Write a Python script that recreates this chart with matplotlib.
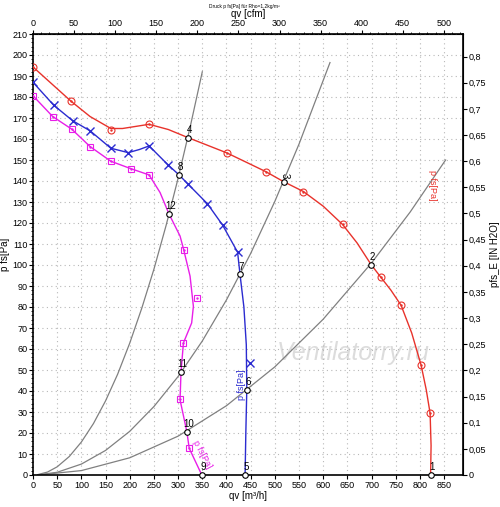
import numpy as np
import matplotlib
matplotlib.use('Agg')
import matplotlib.pyplot as plt
from matplotlib.ticker import MultipleLocator, FuncFormatter

plt.rcParams['font.family'] = ['Liberation Sans', 'DejaVu Sans']

# red curve (full speed)
red_q = [0, 78.6, 118, 161, 185, 240, 280, 320, 400.6, 481, 518, 559, 600, 640, 670, 699, 719, 740, 761, 783, 802.5, 813, 821, 823, 822]
red_p = [194.3, 178, 170.7, 165, 165, 167, 164.5, 160.7, 153.4, 144.5, 139.7, 135, 128, 119.3, 110.5, 100.2, 94.2, 88, 80.8, 67.6, 52.2, 40.6, 29.4, 14, 0]
red_mk_q = [0, 78.6, 161, 240, 400.6, 481, 559, 640, 719, 761, 802.5, 821]
red_mk_p = [194.3, 178, 164.2, 167, 153.4, 144.5, 135, 119.3, 94.2, 80.8, 52.2, 29.4]

# blue curve
blue_q = [0, 42.8, 82, 118, 161, 197, 220, 240, 280, 302, 321, 360.5, 392, 423, 428, 436, 441, 442, 440, 438.5]
blue_p = [187, 176.1, 168.7, 163.9, 155.6, 153.5, 155, 156.7, 147.5, 142.9, 138.4, 129.2, 119, 106.1, 95.5, 80, 62, 40.6, 20, 0]
blue_mk_q = [0, 42.8, 82, 118, 161, 197, 240, 280, 321, 360.5, 392, 423, 449]
blue_mk_p = [187, 176.1, 168.7, 163.9, 155.6, 153.5, 156.7, 147.5, 138.4, 129.2, 119, 106.1, 53.3]

# magenta curve
mag_q = [0, 40.7, 80, 118, 161, 202, 240, 262.7, 281, 304, 311, 324.7, 331.6, 328, 311, 306, 304, 318, 323, 349]
mag_p = [180.6, 170.7, 164.7, 156.4, 149.4, 145.9, 142.9, 134.5, 124.4, 113.8, 107.8, 94.7, 80.3, 72.4, 62.9, 49, 35.8, 20.7, 12.7, 0]
mag_mk_q = [0, 40.7, 80, 118, 161, 202, 240, 312, 338.5, 311, 304, 323]
mag_mk_p = [180.6, 170.7, 164.7, 156.4, 149.4, 145.9, 142.9, 107, 84.3, 63, 36.1, 12.7]

# system curves (grey)
sysA_q = [10, 30, 50, 75, 100, 125, 150, 175, 200, 225, 250, 275, 300, 325, 350]
sysA_p = [0.2, 1.4, 3.9, 8.8, 15.7, 24.5, 35.3, 48, 62.8, 79.5, 98, 118.7, 141.3, 165.8, 192]
sysB_q = [10, 50, 100, 150, 200, 250, 300, 350, 400, 450, 500, 550, 614]
sysB_p = [0.05, 1.3, 5.2, 11.7, 20.8, 32.6, 46.9, 63.8, 83.4, 105.5, 130.3, 157.6, 196.4]
sysC_q = [10, 100, 200, 300, 400, 500, 600, 700, 780, 853]
sysC_p = [0, 2.1, 8.2, 18.5, 33, 51.5, 74.2, 101, 125.3, 150]

# operating points
op_nr = ['1', '2', '3', '4', '5', '6', '7', '8', '9', '10', '11', '12']
op_q = [822, 699, 518, 320, 438.5, 442, 428, 302, 349, 318, 306, 281]
op_p = [0, 100.2, 139.7, 160.7, 0, 40.6, 95.5, 142.9, 0, 20.7, 49, 124.4]

x_ticks = np.arange(0, 851, 50)
y_ticks = np.arange(0, 211, 10)
cfm_ticks = np.arange(0, 501, 50)
inh2o_ticks = np.arange(0, 0.81, 0.05)

fig = plt.figure(figsize=(5, 5.07), dpi=100)
ax = fig.add_axes([33/500, 32/507, 430/500, 441/507])

red = '#e8322b'
blue = '#2b2bd0'
mag = '#e81ee8'

for sq, sp in [(sysA_q, sysA_p), (sysB_q, sysB_p), (sysC_q, sysC_p)]:
    ax.plot(sq, sp, color='#808080', lw=0.9, zorder=2)

ax.plot(red_q, red_p, color=red, lw=1, zorder=3)
ax.plot(red_mk_q, red_mk_p, 'o', mfc='none', mec=red, ms=5, mew=0.8, zorder=4)
ax.plot(red_mk_q, red_mk_p, '.', color=red, ms=1.5, zorder=4)

ax.plot(blue_q, blue_p, color=blue, lw=1, zorder=3)
ax.plot(blue_mk_q, blue_mk_p, 'x', color=blue, ms=6, mew=1, zorder=4)

ax.plot(mag_q, mag_p, color=mag, lw=1, zorder=3)
ax.plot(mag_mk_q, mag_mk_p, 's', mfc='none', mec=mag, ms=4.5, mew=0.8, zorder=4)
ax.plot(mag_mk_q, mag_mk_p, '.', color=mag, ms=1.5, zorder=4)

ax.plot(op_q, op_p, 'o', mfc='white', mec='black', ms=4, mew=0.8, zorder=5, clip_on=False)
for nr, q, p in zip(op_nr, op_q, op_p):
    rot = -90 if nr == '3' else 0
    ax.annotate(nr, (q, p), xytext=(1, 2), textcoords='offset points',
                ha='center', va='bottom', fontsize=7, rotation=rot, zorder=6)

# curve names
ax.text(825, 138, 'p fs[Pa]', color=red, fontsize=6.5, rotation=-90, ha='center', va='center')
ax.text(432, 43, 'p fs[Pa]', color=blue, fontsize=6.5, rotation=90, ha='center', va='center')
ax.text(350, 10, 'p fs[Pa]', color=mag, fontsize=6.5, rotation=-62, ha='center', va='center')

ax.text(505, 58, 'Ventilatorry.ru', color='#d4d4d4', fontsize=18, style='italic',
        ha='left', va='center', alpha=0.8, zorder=1)

ax.set_xlim(0, 889)
ax.set_ylim(0, 210)
ax.set_xticks(x_ticks)
ax.set_yticks(y_ticks)
ax.yaxis.set_minor_locator(MultipleLocator(2))
ax.grid(True, which='major', ls=(0, (1, 3)), color='#b8b8b8', lw=0.8)
ax.tick_params(axis='both', which='major', labelsize=6.5, length=3, width=0.8, pad=1)
ax.tick_params(axis='y', which='minor', length=1.5, width=0.6)
for s in ax.spines.values():
    s.set_linewidth(1.2)
ax.set_xlabel('qv [m³/h]', fontsize=7, labelpad=1)
ax.set_ylabel('p fs[Pa]', fontsize=7, labelpad=2)

top = ax.secondary_xaxis('top', functions=(lambda q: q/1.699, lambda c: c*1.699))
top.set_xticks(cfm_ticks)
top.xaxis.set_minor_locator(MultipleLocator(10))
top.tick_params(which='major', labelsize=6.5, length=3, width=0.8, pad=1)
top.tick_params(which='minor', length=1.5, width=0.6)
top.set_xlabel('qv [cfm]', fontsize=7, labelpad=2)

right = ax.secondary_yaxis('right', functions=(lambda p: p/249.09, lambda v: v*249.09))
right.set_yticks(inh2o_ticks)
right.yaxis.set_major_formatter(FuncFormatter(lambda v, _: ('%g' % round(v, 2)).replace('.', ',')))
right.tick_params(labelsize=6.5, length=3, width=0.8, pad=1)
right.set_ylabel('pfs_E [IN H2O]', fontsize=7, labelpad=3)

fig.text(0.488, 0.992, 'Druck p fs[Pa] für Rho=1,2kg/m³', fontsize=3.5, ha='center', va='top')

fig.savefig('out.png', dpi=100)
